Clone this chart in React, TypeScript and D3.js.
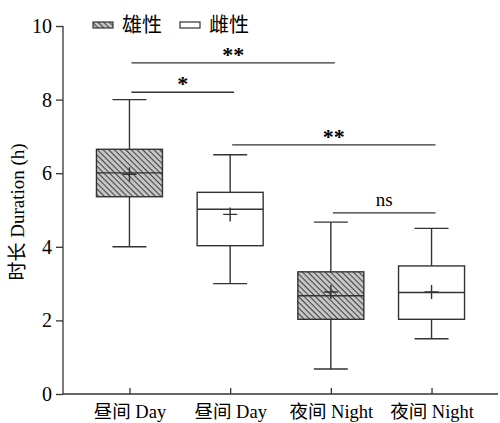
import React, { useEffect, useRef } from 'react';
import * as d3 from 'd3';

// box stats
const groups = ['0', '1', '2', '3'];
const groupLabels = ['昼间 Day', '昼间 Day', '夜间 Night', '夜间 Night'];
const sex = ['male', 'female', 'male', 'female'];
const whiskerLow = [4.0, 3.0, 0.68, 1.5];
const q1 = [5.36, 4.03, 2.03, 2.03];
const median = [6.01, 5.02, 2.67, 2.76];
const q3 = [6.65, 5.48, 3.32, 3.48];
const whiskerHigh = [8.0, 6.5, 4.67, 4.5];
const mean = [5.97, 4.88, 2.77, 2.77];

const yTicks = [0, 2, 4, 6, 8, 10];

// significance brackets: from group, to group, level, label
const sigFrom = [0, 0, 1, 2];
const sigTo = [2, 1, 3, 3];
const sigLevel = [9.0, 8.2, 6.77, 4.92];
const sigText = ['**', '*', '**', 'ns'];

const legendNames = ['雄性', '雌性'];

const W = 500;
const H = 423;
const font = '"Liberation Serif", "Times New Roman", "Noto Sans CJK SC", serif';

const App = () => {
    const ref = useRef<SVGSVGElement>(null);

    useEffect(() => {
        const svg = d3.select(ref.current);
        svg.selectAll('*').remove();

        const axis_x0 = 63;
        const axis_x1 = 498;
        const y = d3.scaleLinear().domain([0, 10]).range([394, 26]);
        const x = d3.scalePoint().domain(groups).range([axis_x0, axis_x1]).padding(0.66);

        const boxW = 66;
        const capW = 34;
        const stroke = '#333';

        const defs = svg.append('defs');
        const pat = defs.append('pattern')
            .attr('id', 'hatch')
            .attr('patternUnits', 'userSpaceOnUse')
            .attr('width', 4)
            .attr('height', 4)
            .attr('patternTransform', 'rotate(45)');
        pat.append('rect').attr('width', 4).attr('height', 4).attr('fill', '#c8c8c8');
        pat.append('line')
            .attr('x1', 0).attr('y1', 0).attr('x2', 4).attr('y2', 0)
            .attr('stroke', '#444').attr('stroke-width', 2.2);

        // y axis
        const yAxis = svg.append('g')
            .attr('transform', `translate(${axis_x0},0)`)
            .call(d3.axisLeft(y).tickValues(yTicks).tickSize(7).tickPadding(4).tickFormat(d3.format('d')));
        yAxis.select('.domain').attr('d', `M0,${y(10)}V${y(0)}`);
        yAxis.selectAll('line, path').attr('stroke', stroke).attr('stroke-width', 1.3);
        yAxis.selectAll('text')
            .style('font-family', font)
            .style('font-size', '20px')
            .attr('fill', '#000');

        // x axis
        const xAxis = svg.append('g')
            .attr('transform', `translate(0,${y(0)})`)
            .call(d3.axisBottom(x).tickSize(-6).tickPadding(11).tickFormat((d, i) => groupLabels[i]));
        xAxis.select('.domain').attr('d', `M${axis_x0},0H${axis_x1}`);
        xAxis.selectAll('line, path').attr('stroke', stroke).attr('stroke-width', 1.3);
        xAxis.selectAll('text')
            .style('font-family', font)
            .style('font-size', '18.5px')
            .attr('fill', '#000');

        // y label
        svg.append('text')
            .attr('transform', `translate(24,${(y(10) + y(0)) / 2 + 2}) rotate(-90)`)
            .attr('text-anchor', 'middle')
            .style('font-family', font)
            .style('font-size', '19px')
            .text('时长 Duration (h)');

        // boxes
        const box = svg.selectAll('.box')
            .data(groups)
            .enter().append('g')
            .attr('class', 'box')
            .attr('transform', d => `translate(${x(d)},0)`);

        box.append('line')
            .attr('x1', 0).attr('x2', 0)
            .attr('y1', (d, i) => y(whiskerHigh[i]))
            .attr('y2', (d, i) => y(q3[i]));
        box.append('line')
            .attr('x1', 0).attr('x2', 0)
            .attr('y1', (d, i) => y(q1[i]))
            .attr('y2', (d, i) => y(whiskerLow[i]));
        box.append('line')
            .attr('x1', -capW / 2).attr('x2', capW / 2)
            .attr('y1', (d, i) => y(whiskerHigh[i]))
            .attr('y2', (d, i) => y(whiskerHigh[i]));
        box.append('line')
            .attr('x1', -capW / 2).attr('x2', capW / 2)
            .attr('y1', (d, i) => y(whiskerLow[i]))
            .attr('y2', (d, i) => y(whiskerLow[i]));
        box.append('rect')
            .attr('x', -boxW / 2)
            .attr('width', boxW)
            .attr('y', (d, i) => y(q3[i]))
            .attr('height', (d, i) => y(q1[i]) - y(q3[i]))
            .attr('fill', (d, i) => sex[i] === 'male' ? 'url(#hatch)' : '#fff');
        box.append('line')
            .attr('x1', -boxW / 2).attr('x2', boxW / 2)
            .attr('y1', (d, i) => y(median[i]))
            .attr('y2', (d, i) => y(median[i]));
        // mean marker
        box.append('path')
            .attr('d', (d, i) => `M-7,${y(mean[i])}H7M0,${y(mean[i]) - 7}V${y(mean[i]) + 7}`);
        box.selectAll('line, rect, path')
            .attr('stroke', stroke)
            .attr('stroke-width', 1.4);

        // significance
        sigText.forEach((t, i) => {
            const x1 = x(groups[sigFrom[i]])!;
            const x2 = x(groups[sigTo[i]])!;
            const yy = y(sigLevel[i]);
            svg.append('line')
                .attr('x1', x1 + 2).attr('x2', x2 + 4)
                .attr('y1', yy).attr('y2', yy)
                .attr('stroke', stroke).attr('stroke-width', 1.3);
            svg.append('text')
                .attr('x', (x1 + x2) / 2 + 3)
                .attr('y', t === 'ns' ? yy - 7 : yy - 1)
                .attr('text-anchor', 'middle')
                .style('font-family', font)
                .style('font-size', t === 'ns' ? '19px' : '22px')
                .style('font-weight', t === 'ns' ? 'normal' : 'bold')
                .text(t);
        });

        // legend
        const legendX = [93, 180];
        const legend = svg.selectAll('.legend')
            .data(legendNames)
            .enter().append('g')
            .attr('class', 'legend')
            .attr('transform', (d, i) => `translate(${legendX[i]},22)`);
        legend.append('rect')
            .attr('width', 20)
            .attr('height', 6)
            .attr('fill', (d, i) => i === 0 ? 'url(#hatch)' : '#fff')
            .attr('stroke', stroke)
            .attr('stroke-width', 1.2);
        legend.append('text')
            .attr('x', 29)
            .attr('y', 10)
            .style('font-family', font)
            .style('font-size', '20px')
            .text(d => d);
    }, []);

    return <svg ref={ref} width={W} height={H} style={{ position: 'absolute', left: 0, top: 0, background: '#fff' }}></svg>;
};

export default App;
